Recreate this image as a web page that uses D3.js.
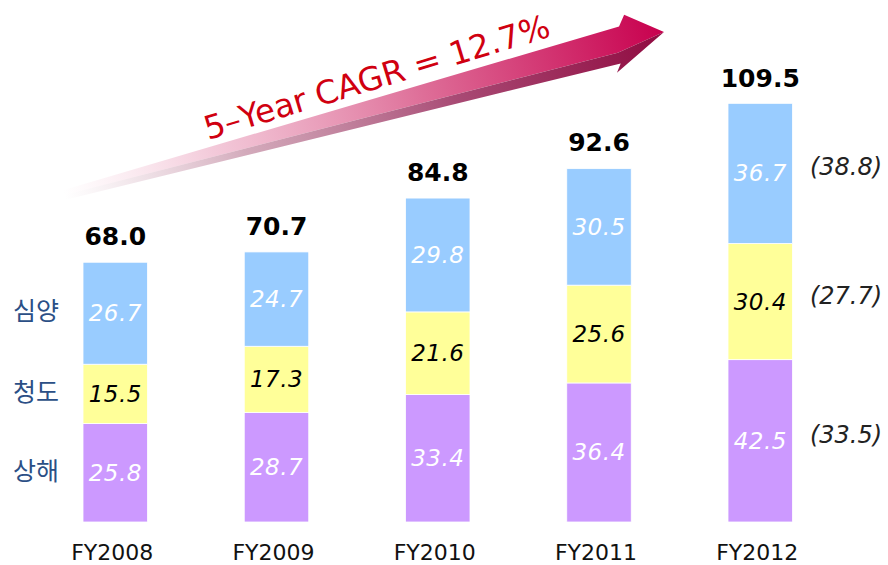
<!DOCTYPE html>
<html><head><meta charset="utf-8">
<script src="https://cdn.jsdelivr.net/npm/d3@7"></script>
<style>body{margin:0;background:#fff}svg{display:block}</style>
</head><body>
<svg id="c" width="888" height="565"></svg>
<script>
const years = ["FY2008","FY2009","FY2010","FY2011","FY2012"];
const shanghai = [25.8, 28.7, 33.4, 36.4, 42.5];
const qingdao  = [15.5, 17.3, 21.6, 25.6, 30.4];
const shenyang = [26.7, 24.7, 29.8, 30.5, 36.7];
const totals   = [68.0, 70.7, 84.8, 92.6, 109.5];
const seriesNames = ["상해", "청도", "심양"];
const sideLabels = ["(33.5)", "(27.7)", "(38.8)"];
const cagrText = "5–Year CAGR = 12.7%";

const colors = ["#cc99ff", "#ffff99", "#99ccff"];
const labelColors = ["#ffffff", "#000000", "#ffffff"];
const font = "'DejaVu Sans', Verdana, sans-serif";

const svg = d3.select("#c");
const x = d3.scaleBand().domain(years).range([-13.75, 889.25]).paddingInner(0.6).paddingOuter(0.6);
const y = d3.scaleLinear().domain([0, 110]).range([522, 101.8]);

// Arrow
const defs = svg.append("defs");
const g1 = defs.append("linearGradient").attr("id","ag").attr("x1","0%").attr("x2","100%");
g1.append("stop").attr("offset","0%").attr("stop-color","#f6d0de").attr("stop-opacity",0);
g1.append("stop").attr("offset","25%").attr("stop-color","#f0bcd0").attr("stop-opacity",0.8);
g1.append("stop").attr("offset","60%").attr("stop-color","#de6e98").attr("stop-opacity",1);
g1.append("stop").attr("offset","100%").attr("stop-color","#c8004e").attr("stop-opacity",1);
const g2 = defs.append("linearGradient").attr("id","ag2").attr("x1","0%").attr("x2","100%");
g2.append("stop").attr("offset","0%").attr("stop-color","#d8b8c6").attr("stop-opacity",0);
g2.append("stop").attr("offset","30%").attr("stop-color","#c895aa").attr("stop-opacity",0.8);
g2.append("stop").attr("offset","65%").attr("stop-color","#a84a74").attr("stop-opacity",1);
g2.append("stop").attr("offset","100%").attr("stop-color","#900a40").attr("stop-opacity",1);

const ax0 = 64, ay0 = 194, ax1 = 664, ay1 = 32;
const ang = Math.atan2(ay1 - ay0, ax1 - ax0) * 180 / Math.PI;
const L = Math.hypot(ax1 - ax0, ay1 - ay0);
const ag = svg.append("g").attr("transform", `translate(${ax0},${ay0}) rotate(${ang})`);
ag.append("path").attr("fill","url(#ag)")
  .attr("d", `M0,-4 L${L-42},-17 L${L-34},-27 L${L},0 L${L-50},8 L0,1 Z`);
ag.append("path").attr("fill","url(#ag2)")
  .attr("d", `M0,1 L${L-50},8 L${L},0 L${L-56},27 L${L-50},19 L0,6 Z`);

svg.append("text").attr("transform", `translate(380,88) rotate(-16.8)`)
  .attr("text-anchor","middle").attr("font-family", font).attr("font-size", 32.5)
  .attr("fill", "#d00010").text(cagrText);

// Bars
const series = [shanghai, qingdao, shenyang];
years.forEach((yr, i) => {
  let base = 0;
  series.forEach((s, k) => {
    const v = s[i];
    const y0 = y(base), y1 = y(base + v);
    svg.append("rect").attr("x", x(yr)).attr("width", x.bandwidth())
      .attr("y", y1).attr("height", y0 - y1).attr("fill", colors[k])
      .attr("stroke", "#ffffff").attr("stroke-width", 0.8);
    svg.append("text").attr("x", x(yr) + x.bandwidth()/2).attr("y", (y0 + y1)/2 + 8)
      .attr("text-anchor","middle").attr("font-family", font).attr("font-style","italic")
      .attr("font-size", 23).attr("letter-spacing", 0.5).attr("fill", labelColors[k]).text(v.toFixed(1));
    base += v;
  });
  svg.append("text").attr("x", x(yr) + x.bandwidth()/2).attr("y", y(totals[i]) - 17)
    .attr("text-anchor","middle").attr("font-family", font).attr("font-weight","bold")
    .attr("font-size", 25).attr("fill", "#000").text(totals[i].toFixed(1));
  svg.append("text").attr("x", x(yr) + x.bandwidth()/2 - 3).attr("y", 560)
    .attr("text-anchor","middle").attr("font-family", font)
    .attr("font-size", 22).attr("fill", "#111").text(yr);
});

// Left legend labels aligned with first bar segments
let b = 0;
series.forEach((s, k) => {
  const v = s[0];
  svg.append("text").attr("x", 36).attr("y", (y(b) + y(b + v))/2 + 7)
    .attr("text-anchor","middle").attr("font-family", "'Noto Sans CJK KR', sans-serif")
    .attr("font-size", 25).attr("fill", "#2b4f86").text(seriesNames[k]);
  b += v;
});

// Right labels aligned with last bar segments
const last = years.length - 1;
b = 0;
series.forEach((s, k) => {
  const v = s[last];
  svg.append("text").attr("x", 846).attr("y", (y(b) + y(b + v))/2 + 2)
    .attr("text-anchor","middle").attr("font-family", font).attr("font-style","italic")
    .attr("font-size", 24).attr("fill", "#222").text(sideLabels[k]);
  b += v;
});
</script>
</body></html>
